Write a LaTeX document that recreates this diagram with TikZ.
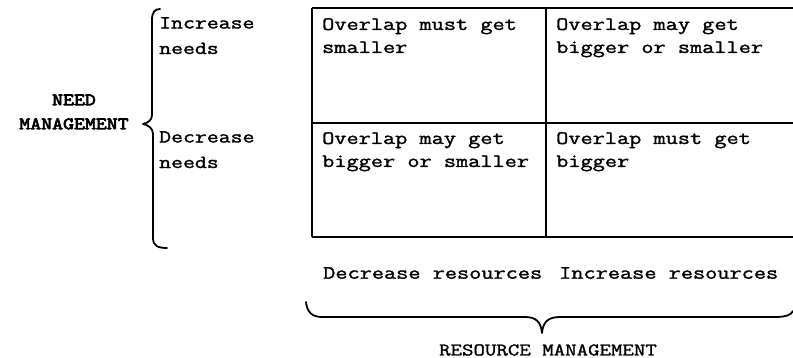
\documentclass[tikz,border=0pt]{standalone}
\usepackage{fontspec}
\setmainfont{Latin Modern Mono}[FakeStretch=1.25,FakeBold=1.5]
\newfontfamily\headfont{Latin Modern Mono}[FakeStretch=1.22,FakeBold=4]
\begin{document}
\begin{tikzpicture}[x=1pt,y=-1pt,
  celltext/.style={anchor=north west,inner sep=0pt,align=left,
    font=\fontsize{18.9}{23}\selectfont},
  rowlabel/.style={anchor=north west,inner sep=0pt,align=left,
    font=\fontsize{18.5}{25.5}\selectfont},
  collabel/.style={anchor=north west,inner sep=0pt,
    font=\fontsize{18.9}{24}\selectfont},
  grouplabel/.style={inner sep=0pt,align=center},
  gridline/.style={line width=1.4pt},
  bracepath/.style={line width=1.8pt,line cap=round,line join=round}]
\useasboundingbox (0,0) rectangle (793,358);

% table frame (open on the right)
\coordinate (tl) at (312,8);
\coordinate (ml) at (312,123);
\coordinate (bl) at (312,237);
\coordinate (tm) at (546,8);
\coordinate (bm) at (546,237);
\draw[gridline] (tl) -- (793,8);
\draw[gridline] (ml) -- (793,123);
\draw[gridline] (bl) -- (793,237);
\draw[gridline] (tl) -- (bl);
\draw[gridline] (tm) -- (bm);

% cell contents
\node[celltext] (c11) at (322,18) {Overlap must get\\smaller};
\node[celltext] (c12) at (556,18) {Overlap may get\\bigger or smaller};
\node[celltext] (c21) at (322,132) {Overlap may get\\bigger or smaller};
\node[celltext] (c22) at (556,132) {Overlap must get\\bigger};

% row labels and their brace
\node[rowlabel] (inc) at (159,17) {Increase\\needs};
\node[rowlabel] (dec) at (159,131) {Decrease\\needs};
\draw[bracepath] (160,9) .. controls (155,9) and (152,12) .. (152,20)
  -- (152,115) .. controls (152,120) and (148,123) .. (143,124)
  .. controls (148,125) and (153,128) .. (153,134)
  -- (153,238) .. controls (153,246) and (158,248) .. (167,248);
\node[grouplabel,font=\headfont\fontsize{17.4}{24}\selectfont] (needmgmt) at (74,112)
  {NEED\\MANAGEMENT};

% column labels and their brace
\node[collabel] (decres) at (323,267) {Decrease resources};
\node[collabel] (incres) at (559,267) {Increase resources};
\draw[bracepath] (306,302) .. controls (307,312) and (312,317) .. (322,317)
  -- (525,317) .. controls (536,317) and (541,322) .. (542,333)
  .. controls (543,322) and (548,317) .. (560,317)
  -- (775,317) .. controls (786,317) and (791,315) .. (793,311);
\node[grouplabel,font=\fontsize{17.8}{24}\selectfont] (resmgmt) at (548,350)
  {RESOURCE MANAGEMENT};
\end{tikzpicture}
\end{document}
